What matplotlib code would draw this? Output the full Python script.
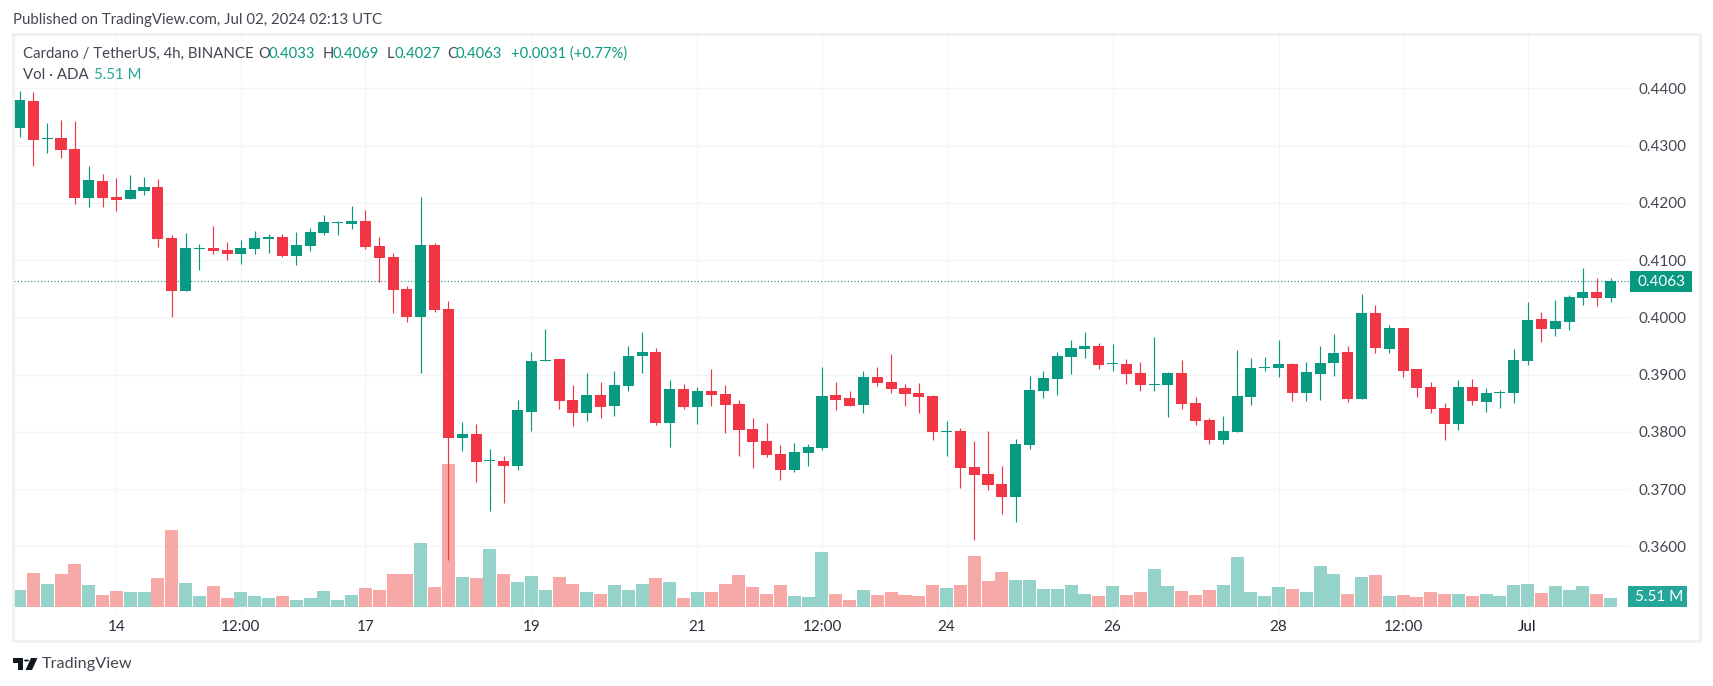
import matplotlib
matplotlib.use('Agg')
import matplotlib.pyplot as plt
from matplotlib.patches import Rectangle, Polygon, Circle

W, H = 1713, 686

# 4h candles, prices in 1/10000 USDT
opens = [4331, 4378, 4312, 4313, 4294, 4208, 4238, 4210, 4207, 4221, 4228, 4138,
         4046, 4119, 4121, 4118, 4111, 4119, 4137, 4140, 4107, 4125, 4147, 4164,
         4163, 4168, 4125, 4105, 4049, 4000, 4126, 4014, 3789, 3796, 3749, 3749,
         3740, 3835, 3924, 3927, 3855, 3833, 3864, 3845, 3880, 3932, 3939, 3815,
         3875, 3843, 3871, 3866, 3849, 3805, 3784, 3761, 3733, 3763, 3772, 3864,
         3859, 3847, 3896, 3887, 3877, 3868, 3863, 3800, 3801, 3739, 3726, 3709,
         3686, 3777, 3871, 3892, 3931, 3945, 3950, 3919, 3919, 3903, 3882, 3882,
         3903, 3850, 3821, 3786, 3800, 3861, 3911, 3911, 3918, 3868, 3901, 3920,
         3939, 3857, 4008, 3945, 3981, 3910, 3878, 3842, 3814, 3878, 3852, 3868,
         3868, 3924, 3997, 3980, 3992, 4034, 4044, 4033]
highs = [4396, 4394, 4339, 4345, 4343, 4264, 4250, 4243, 4249, 4245, 4242, 4144,
         4147, 4128, 4159, 4131, 4135, 4151, 4146, 4146, 4149, 4156, 4178, 4168,
         4194, 4187, 4140, 4112, 4055, 4210, 4130, 4028, 3817, 3814, 3770, 3758,
         3855, 3939, 3980, 3927, 3882, 3903, 3887, 3906, 3950, 3974, 3946, 3891,
         3884, 3878, 3910, 3882, 3856, 3824, 3815, 3777, 3780, 3779, 3913, 3887,
         3871, 3906, 3913, 3936, 3884, 3885, 3864, 3819, 3807, 3784, 3801, 3740,
         3787, 3898, 3906, 3939, 3960, 3974, 3955, 3953, 3927, 3922, 3966, 3904,
         3925, 3861, 3824, 3828, 3943, 3929, 3931, 3960, 3920, 3922, 3950, 3971,
         3950, 4041, 4022, 3987, 3981, 3910, 3887, 3850, 3890, 3892, 3877, 3873,
         3945, 4027, 4009, 4030, 4039, 4086, 4069, 4069]
lows = [4315, 4264, 4287, 4278, 4198, 4193, 4193, 4186, 4207, 4214, 4123, 4000,
        4046, 4083, 4111, 4100, 4093, 4111, 4112, 4105, 4091, 4116, 4144, 4144,
        4154, 4119, 4062, 4007, 3992, 3903, 4009, 3576, 3766, 3712, 3662, 3676,
        3733, 3801, 3924, 3840, 3810, 3819, 3824, 3828, 3871, 3903, 3812, 3773,
        3840, 3814, 3845, 3798, 3758, 3737, 3756, 3716, 3730, 3740, 3768, 3838,
        3845, 3833, 3880, 3868, 3845, 3833, 3786, 3758, 3702, 3611, 3698, 3656,
        3642, 3770, 3859, 3864, 3901, 3929, 3910, 3906, 3884, 3871, 3871, 3826,
        3840, 3812, 3779, 3779, 3800, 3847, 3906, 3896, 3854, 3854, 3856, 3897,
        3852, 3857, 3938, 3938, 3896, 3861, 3833, 3786, 3803, 3847, 3835, 3842,
        3850, 3917, 3957, 3967, 3978, 4022, 4020, 4027]
closes = [4380, 4310, 4313, 4292, 4208, 4240, 4208, 4205, 4222, 4228, 4137, 4046,
          4121, 4121, 4116, 4111, 4121, 4138, 4140, 4107, 4126, 4149, 4166, 4165,
          4168, 4123, 4104, 4048, 4000, 4126, 4013, 3789, 3796, 3747, 3751, 3740,
          3838, 3924, 3925, 3854, 3833, 3864, 3843, 3882, 3932, 3939, 3815, 3875,
          3843, 3871, 3864, 3847, 3803, 3782, 3760, 3733, 3765, 3773, 3863, 3856,
          3845, 3896, 3885, 3875, 3866, 3861, 3800, 3801, 3737, 3725, 3707, 3686,
          3779, 3873, 3894, 3932, 3946, 3950, 3917, 3920, 3901, 3882, 3883, 3903,
          3849, 3819, 3786, 3801, 3863, 3912, 3913, 3918, 3868, 3905, 3920, 3938,
          3857, 4008, 3946, 3981, 3906, 3877, 3840, 3814, 3878, 3854, 3868, 3870,
          3925, 3995, 3980, 3994, 4036, 4044, 4033, 4063]
volumes = [10.4, 20.8, 14.1, 20.2, 26.3, 13.5, 7.3, 9.8, 9.2, 9.2, 17.7, 47.1,
           14.7, 6.7, 12.9, 5.5, 9.2, 6.7, 5.5, 6.7, 4.3, 5.5, 9.8, 4.3,
           7.3, 11.6, 10.4, 20.2, 20.2, 39.2, 12.2, 87.5, 18.4, 17.7, 35.5, 20.2,
           15.3, 19.0, 10.4, 18.4, 14.1, 9.2, 8.0, 13.5, 10.4, 14.1, 17.7, 15.3,
           5.5, 9.2, 9.2, 14.1, 19.6, 12.2, 8.0, 13.5, 6.7, 6.1, 33.7, 8.0,
           4.3, 10.4, 7.3, 9.2, 7.3, 6.7, 13.5, 11.6, 13.5, 31.2, 15.9, 21.4,
           16.5, 16.5, 11.0, 11.0, 13.5, 8.0, 6.7, 12.9, 7.3, 9.2, 23.3, 12.9,
           9.8, 7.3, 10.4, 13.5, 30.6, 9.2, 6.7, 12.2, 11.0, 9.2, 25.1, 20.2,
           8.0, 18.4, 19.6, 6.7, 7.3, 6.1, 9.2, 8.0, 8.0, 6.7, 8.0, 6.7,
           13.5, 14.1, 8.6, 12.9, 10.4, 12.9, 8.0, 5.51]

time_pos = [7, 16, 25, 37, 49, 58, 67, 79, 91, 100, 109]
time_labels = ['14', '12:00', '17', '19', '21', '12:00', '24', '26', '28', '12:00', 'Jul']
price_ticks = [3600, 3700, 3800, 3900, 4000, 4100, 4200, 4300, 4400]

GREEN = '#089981'
RED = '#F23645'
GREEN_VOL = '#95d2ca'
RED_VOL = '#f7a9a8'
GRID = '#f3f4f8'
TEXT = '#434651'
FONT = 'Lato'

plt.rcParams['font.family'] = FONT


def fx(px):
    return px / W


def fy(py):
    return 1 - py / H


fig = plt.figure(figsize=(W / 100, H / 100), dpi=100, facecolor='white')

# pane: x 14..1630, y 34..612 px
pos = [fx(14), fy(612), (1630 - 14) / W, (612 - 34) / H]
ax = fig.add_axes(pos)
ax_vol = ax.twinx()
ax_price = ax.twinx()
for a in (ax, ax_vol, ax_price):
    a.set_xlim(-0.398, 116.4)
    for s in a.spines.values():
        s.set_visible(False)
ax_vol.patch.set_visible(False)
ax_price.patch.set_visible(False)

# price scale, 57.25 px per 0.01
ax.set_ylim(3485.2, 4494.8)
ax_price.set_ylim(3485.2, 4494.8)
ax_vol.set_ylim(-3.06, 350.7)
ax_vol.set_yticks([])
ax_price.set_yticks([])
ax_vol.set_xticks([])
ax_price.set_xticks([])

ax.grid(True, axis='y', color=GRID, lw=1.0)
ax.grid(True, axis='x', color=GRID, lw=0.72)
ax.set_axisbelow(True)
ax.set_xticks(time_pos)
ax.set_xticklabels(time_labels, fontsize=11, color='#2a2e39')
ax.get_xticklabels()[-1].set_color('#131722')
ax.set_yticks(price_ticks)
ax.set_yticklabels(['0.%04d' % p for p in price_ticks], fontsize=11, color=TEXT)
ax.yaxis.tick_right()
ax.tick_params(axis='x', length=0, pad=6)
ax.tick_params(axis='y', length=0, pad=6)

idx = list(range(len(closes)))
vol_cols = [GREEN_VOL if c >= o else RED_VOL for o, c in zip(opens, closes)]
ax_vol.bar(idx, volumes, width=0.94, color=vol_cols, linewidth=0)

cols = [GREEN if c >= o else RED for o, c in zip(opens, closes)]
ax_price.vlines(idx, lows, highs, colors=cols, lw=0.85, zorder=2)
bottoms = [min(o, c) for o, c in zip(opens, closes)]
heights = [max(abs(c - o), 2) for o, c in zip(opens, closes)]
ax_price.bar(idx, heights, bottom=bottoms, width=0.8, color=cols, linewidth=0, zorder=3)
ax_price.axhline(closes[-1], color=GREEN, lw=0.8, ls=(0, (1, 2)), zorder=1)

# pane border
fig.add_artist(Rectangle((fx(13), fy(641)), (1700 - 13) / W, (641 - 34) / H,
                         transform=fig.transFigure, fill=False, ec='#f0f0f5', lw=2))

# header and legend
fig.text(fx(13), fy(20), 'Published on TradingView.com, Jul 02, 2024 02:13 UTC',
         fontsize=10.8, color=TEXT, va='center')
fig.text(fx(23), fy(54), 'Cardano / TetherUS, 4h, BINANCE', fontsize=10.8, color=TEXT, va='center')
legend_parts = [(258, 'O', TEXT), (268.5, '0.4033', GREEN), (322.5, 'H', TEXT), (332.5, '0.4069', GREEN),
                (386.5, 'L', TEXT), (394.5, '0.4027', GREEN), (447.5, 'C', TEXT), (456, '0.4063', GREEN),
                (511, '+0.0031 (+0.77%)', GREEN)]
for x, s, c in legend_parts:
    fig.text(fx(x), fy(54), s, fontsize=10.6, color=c, va='center')
fig.text(fx(23), fy(75), 'Vol · ADA', fontsize=10.8, color=TEXT, va='center')
fig.text(fx(94), fy(75), '5.51 M', fontsize=10.8, color='#26a69a', va='center')

# value tags on the price scale
fig.add_artist(Rectangle((fx(1630), fy(292)), 62 / W, 21 / H, transform=fig.transFigure,
                         fc=GREEN, ec='none'))
fig.text(fx(1661), fy(281.5), '0.4063', fontsize=11, color='white', ha='center', va='center')
fig.add_artist(Rectangle((fx(1628), fy(607)), 59 / W, 21 / H, transform=fig.transFigure,
                         fc='#26a69a', ec='none'))
fig.text(fx(1659), fy(597), '5.51 M', fontsize=11, color='white', ha='center', va='center')

# TradingView logo
LOGO = '#131722'
fig.add_artist(Polygon([(fx(13), fy(658)), (fx(23), fy(658)), (fx(23), fy(670)), (fx(18), fy(670)),
                        (fx(18), fy(663)), (fx(13), fy(663))], transform=fig.transFigure,
                       fc=LOGO, ec='none'))
fig.add_artist(Circle((fx(26.5), fy(660.5)), 2.5 / W, transform=fig.transFigure, fc=LOGO, ec='none'))
fig.add_artist(Polygon([(fx(31), fy(658)), (fx(37.5), fy(658)), (fx(32), fy(670)), (fx(25.5), fy(670))],
                       transform=fig.transFigure, fc=LOGO, ec='none'))
fig.text(fx(42), fy(664), 'TradingView', fontsize=11.7, color=TEXT, va='center')

fig.savefig('out.png', dpi=100)
